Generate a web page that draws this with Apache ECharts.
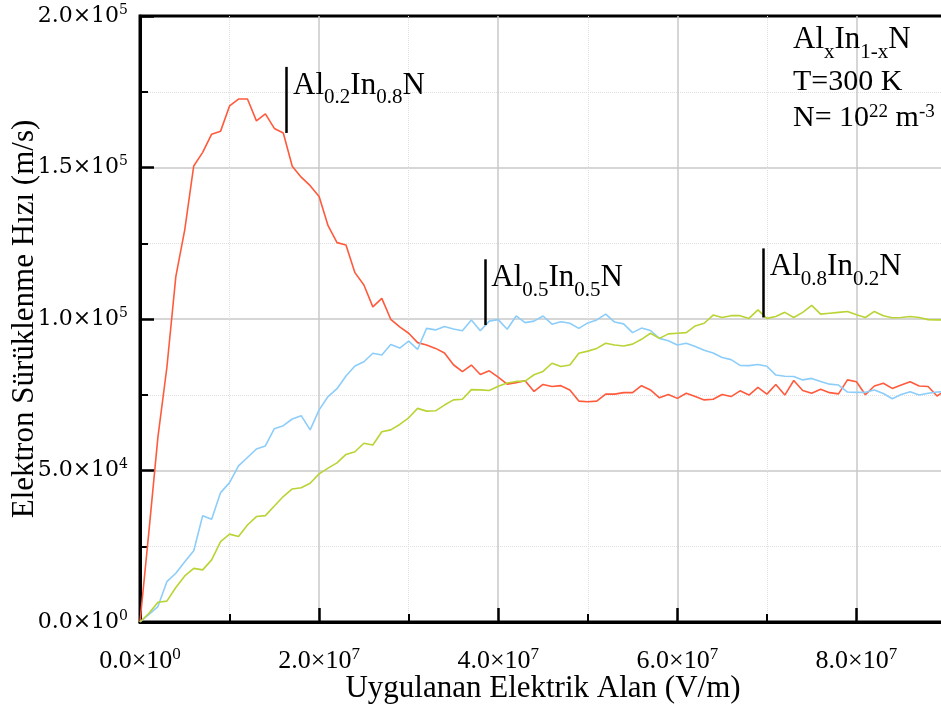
<!DOCTYPE html>
<html>
<head>
<meta charset="utf-8">
<title>Elektron Sürüklenme Hızı</title>
<script src="https://cdn.jsdelivr.net/npm/echarts@6/dist/echarts.min.js"></script>
<style>
  html, body { margin: 0; padding: 0; background: #fff; }
  #chart { width: 941px; height: 708px; }
</style>
</head>
<body>
<div id="chart"></div>
<script>
// Applied field samples, in units of 10^6 V/m
const fieldMV = [
  0, 1, 2, 3, 4, 5, 6, 7, 8, 9, 10, 11, 12, 13, 14, 15, 16, 17, 18, 19,
  20, 21, 22, 23, 24, 25, 26, 27, 28, 29, 30, 31, 32, 33, 34, 35, 36, 37, 38, 39,
  40, 41, 42, 43, 44, 45, 46, 47, 48, 49, 50, 51, 52, 53, 54, 55, 56, 57, 58, 59,
  60, 61, 62, 63, 64, 65, 66, 67, 68, 69, 70, 71, 72, 73, 74, 75, 76, 77, 78, 79,
  80, 81, 82, 83, 84, 85, 86, 87, 88, 89, 90
];

// Drift velocity (m/s) for Al0.2In0.8N
const vAl02 = [
  0, 30000, 61000, 84000, 114000, 129500, 150500, 155000, 161000, 162000,
  170300, 172600, 172600, 165400, 167700, 162900, 161400, 150400, 146800, 144000,
  140400, 130800, 125200, 124400, 115300, 111200, 104000, 106800, 99900, 97400,
  95300, 92200, 91400, 90300, 88800, 84900, 82600, 84800, 81700, 82900,
  80800, 78500, 79000, 79600, 76100, 78400, 77700, 78000, 76600, 72900,
  72700, 72900, 75200, 75200, 75700, 75700, 78000, 76600, 74000, 75100,
  73800, 75500, 74400, 73300, 73500, 75100, 74400, 76300, 74900, 77400,
  75200, 78400, 74900, 79700, 76400, 75500, 76800, 75700, 75300, 79900,
  79300, 75000, 77900, 78800, 77100, 78200, 79300, 77900, 77700, 74600, 76500
];

// Drift velocity (m/s) for Al0.5In0.5N
const vAl05 = [
  0, 2500, 5100, 13300, 16100, 19900, 23500, 35100, 33900, 42700,
  46000, 51500, 54300, 57100, 58100, 63800, 64800, 67000, 68100, 63400,
  70000, 74400, 77000, 81200, 84500, 85900, 88700, 88100, 91600, 90400,
  92700, 90000, 96900, 96400, 97500, 96700, 96100, 99700, 96100, 99300,
  99800, 96600, 101000, 98800, 99300, 101000, 98300, 99100, 98600, 96900,
  98700, 99700, 101600, 99000, 98400, 95500, 97000, 96200, 93600, 92800,
  91400, 92000, 90900, 89700, 88800, 87300, 86600, 84700, 84600, 85000,
  84400, 81500, 81100, 81000, 79900, 80400, 79400, 78500, 78200, 75900,
  75800, 75800, 76600, 75400, 73700, 75100, 76000, 74900, 75500, 75900, 76000
];

// Drift velocity (m/s) for Al0.8In0.2N
const vAl08 = [
  0, 2900, 6500, 6900, 11400, 15200, 17700, 17200, 20500, 26500,
  29000, 28200, 32000, 34800, 35100, 38300, 41400, 43900, 44300, 45800,
  48900, 50800, 52500, 55300, 56200, 59000, 58400, 62800, 63400, 65200,
  67400, 70500, 69600, 69700, 71600, 73300, 73500, 76700, 76600, 76400,
  77800, 78900, 79400, 79500, 81600, 82700, 85400, 84300, 84800, 88700,
  89400, 90300, 92000, 91400, 91100, 91700, 93300, 95300, 93600, 95100,
  95300, 95500, 97700, 98600, 101300, 100500, 101100, 101100, 100200, 103000,
  100200, 100800, 102200, 100500, 102200, 104500, 101600, 101900, 102200, 102500,
  101400, 100500, 102500, 101100, 100400, 100500, 100800, 100500, 99800, 99700, 99700
];

// Axis tick values
const xTicks = [0, 2e7, 4e7, 6e7, 8e7];
const yTicks = [0, 5e4, 1e5, 1.5e5, 2e5];

// Curve annotations: vertical marker [field, top, bottom] and composition subscripts
const notes = [
  { x: 1.637e7, top: 183200, bottom: 161400, a: '0.2', b: '0.8' },
  { x: 3.85e7,  top: 119700, bottom: 98000,  a: '0.5', b: '0.5' },
  { x: 6.96e7,  top: 123300, bottom: 100500, a: '0.8', b: '0.2' }
];

const SERIF = '"Liberation Serif", "Times New Roman", serif';
const colors = ['#FF5A3C', '#8CCDFA', '#B8D435'];

function sciParts(v) {
  if (v === 0) return ['0.0', '0'];
  const e = Math.floor(Math.log10(v) + 1e-9);
  return [(v / Math.pow(10, e)).toFixed(1), String(e)];
}

// Formula text with subscripts: base centred in a 46px line, subscripts pushed to its bottom
const subRich = {
  b: { fontFamily: SERIF, fontSize: 31, lineHeight: 46, verticalAlign: 'middle', color: '#000' },
  s: { fontFamily: SERIF, fontSize: 21, lineHeight: 46, verticalAlign: 'bottom', color: '#000' }
};
// Plain text with superscripts: base centred in a 30px line, exponents at its top
const supRich = {
  b: { fontFamily: SERIF, fontSize: 30, lineHeight: 30, verticalAlign: 'middle', color: '#000' },
  p: { fontFamily: SERIF, fontSize: 19, lineHeight: 19, verticalAlign: 'top', color: '#000' }
};

function pairs(ys) {
  return fieldMV.map((f, i) => [f * 1e6, ys[i]]);
}

function noteMarks(n) {
  return {
    markLine: {
      silent: true,
      symbol: ['none', 'none'],
      label: { show: false },
      lineStyle: { color: '#000', width: 2.5, type: 'solid' },
      data: [[{ coord: [n.x, n.top] }, { coord: [n.x, n.bottom] }]]
    },
    markPoint: {
      silent: true,
      symbol: 'rect',
      symbolSize: 1,
      itemStyle: { color: 'rgba(0,0,0,0)' },
      label: {
        show: true,
        position: [7, -4],
        formatter: '{b|Al}{s|' + n.a + '}{b|In}{s|' + n.b + '}{b|N}',
        rich: subRich
      },
      data: [{ coord: [n.x, n.top] }]
    }
  };
}

const seriesData = [vAl02, vAl05, vAl08];

const chart = echarts.init(document.getElementById('chart'), null, { renderer: 'canvas' });

chart.setOption({
  animation: false,
  backgroundColor: '#fff',
  grid: {
    left: 140, top: 16, width: 806, height: 606,
    outerBoundsMode: 'none',
    containLabel: false,
    show: true, borderColor: '#000', borderWidth: 3, backgroundColor: 'transparent'
  },
  xAxis: {
    type: 'value', min: 0, max: 9e7, interval: 2e7,
    name: 'Uygulanan Elektrik Alan (V/m)',
    nameLocation: 'middle', nameGap: 51, nameMoveOverlap: false,
    nameTextStyle: { fontFamily: SERIF, fontSize: 31, color: '#000' },
    axisLine: { show: true, onZero: false, lineStyle: { color: '#000', width: 3 } },
    axisTick: { show: true, inside: true, length: 14, lineStyle: { color: '#000', width: 2.5 } },
    minorTick: { show: true, splitNumber: 2, length: 8, lineStyle: { color: '#000', width: 2 } },
    splitLine: { show: true, showMinLine: false, lineStyle: { color: '#c8c8c8', width: 1.5 } },
    minorSplitLine: { show: true, lineStyle: { color: '#e0e0e0', width: 1, type: 'dotted' } },
    axisLabel: {
      showMaxLabel: false,
      margin: 24,
      formatter: function (v) {
        if (xTicks.indexOf(v) < 0) return '';
        const p = sciParts(v);
        return '{m|' + p[0] + '×10}{e|' + p[1] + '}';
      },
      rich: {
        m: { fontFamily: SERIF, fontSize: 26, lineHeight: 30, verticalAlign: 'middle', color: '#000' },
        e: { fontFamily: SERIF, fontSize: 17, lineHeight: 17, verticalAlign: 'top', color: '#000' }
      }
    }
  },
  yAxis: {
    type: 'value', min: 0, max: 2e5, interval: 5e4,
    name: 'Elektron Sürüklenme Hızı (m/s)',
    nameLocation: 'middle', nameGap: 100, nameMoveOverlap: false,
    nameTextStyle: { fontFamily: SERIF, fontSize: 31, color: '#000' },
    axisLine: { show: true, onZero: false, lineStyle: { color: '#000', width: 3 } },
    axisTick: { show: true, inside: true, length: 14, lineStyle: { color: '#000', width: 2.5 } },
    minorTick: { show: true, splitNumber: 2, length: 8, lineStyle: { color: '#000', width: 2 } },
    splitLine: { show: true, showMinLine: false, showMaxLine: false, lineStyle: { color: '#c8c8c8', width: 1.5 } },
    minorSplitLine: { show: true, lineStyle: { color: '#e0e0e0', width: 1, type: 'dotted' } },
    axisLabel: {
      margin: 12,
      formatter: function (v) {
        if (yTicks.indexOf(v) < 0) return '';
        const p = sciParts(v);
        return '{m|' + p[0] + '×10}{e|' + p[1] + '}';
      },
      rich: {
        m: { fontFamily: '"DejaVu Serif", serif', fontSize: 22, lineHeight: 26, verticalAlign: 'middle', color: '#000' },
        e: { fontFamily: '"DejaVu Serif", serif', fontSize: 14, lineHeight: 14, verticalAlign: 'top', color: '#000' }
      }
    }
  },
  graphic: [
    {
      type: 'text', left: 793, top: 24, z: 10,
      style: { text: '{b|Al}{s|x}{b|In}{s|1-x}{b|N}', rich: subRich }
    },
    {
      type: 'text', left: 793, top: 67, z: 10,
      style: { text: '{b|T=300 K}', rich: supRich }
    },
    {
      type: 'text', left: 793, top: 103, z: 10,
      style: { text: '{b|N= 10}{p|22}{b| m}{p|-3}', rich: supRich }
    }
  ],
  series: seriesData.map(function (ys, k) {
    return Object.assign({
      type: 'line',
      data: pairs(ys),
      showSymbol: false,
      symbol: 'none',
      lineStyle: { color: colors[k], width: 1.6 },
      itemStyle: { color: colors[k] },
      z: 3
    }, noteMarks(notes[k]));
  })
});
</script>
</body>
</html>
